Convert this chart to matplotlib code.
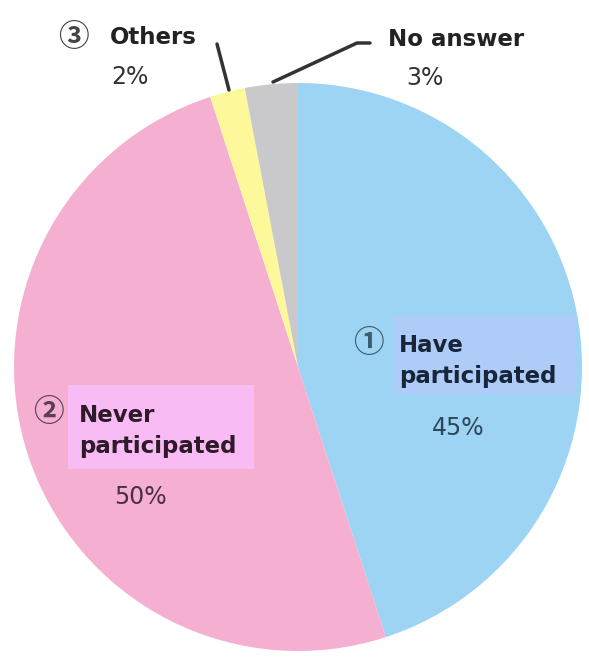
import matplotlib
matplotlib.use("Agg")
import matplotlib.pyplot as plt
from matplotlib.patches import Rectangle

plt.rcParams["font.family"] = ["DejaVu Sans", "Noto Sans CJK JP"]

# data
labels = ["Have participated", "Never participated", "Others", "No answer"]
shares = [45, 50, 2, 3]
pct_text = ["45%", "50%", "2%", "3%"]
colors = ["#9dd4f4", "#f5afd1", "#fdf99a", "#c9c9cb"]

W, H = 589, 664
fig = plt.figure(figsize=(W / 100, H / 100), dpi=100)
ax = fig.add_axes([0, 0, 1, 1])


def y(py):
    # pixel rows are counted from the top
    return H - py


ax.pie(shares, colors=colors, startangle=90, counterclock=False,
       center=(298, y(367)), radius=284, wedgeprops=dict(linewidth=0))
ax.set_xlim(0, W)
ax.set_ylim(0, H)
ax.set_aspect("equal")
ax.axis("off")

# label backgrounds
ax.add_patch(Rectangle((393, y(394)), 182, 78, color="#afccf8", lw=0, zorder=3))
ax.add_patch(Rectangle((68, y(469)), 186, 84, color="#f8bbf3", lw=0, zorder=3))

bold = dict(fontsize=16.5, fontweight="bold", va="center", ha="left", zorder=4)
plain = dict(fontsize=17, va="center", ha="center", zorder=4)
# circled digits come from the CJK font (thin ring)
circ = dict(fontsize=22, fontweight="bold", family=["Noto Sans CJK JP", "DejaVu Sans"],
            ha="center", va="center", zorder=4)

# 1) have participated
ax.text(368, y(343), "\u2460", color="#3d5d6b", **circ)
ax.text(399, y(346), "Have", color="#18263a", **bold)
ax.text(399, y(377), "participated", color="#18263a", **bold)
ax.text(458, y(428), pct_text[0], color="#2c4858", **plain)

# 2) never participated
ax.text(48, y(412), "\u2461", color="#5a4050", **circ)
ax.text(79, y(415), "Never", color="#2e1a28", **bold)
ax.text(79, y(446), "participated", color="#2e1a28", **bold)
ax.text(140, y(497), pct_text[1], color="#4a3040", **plain)

# 3) others
ax.text(73, y(37), "\u2462", color="#444444", **circ)
ax.text(110, y(38), "Others", color="#222222", **bold)
ax.text(130, y(77), pct_text[2], color="#333333", **plain)
ax.plot([217, 229], [y(44), y(90)], color="#333333", lw=2.5, solid_capstyle="round", zorder=4)

# no answer
ax.text(388, y(40), "No answer", color="#222222", **bold)
ax.text(425, y(78), pct_text[3], color="#333333", **plain)
ax.plot([273, 357, 370], [y(82), y(43), y(43)], color="#333333", lw=2.5,
        solid_capstyle="round", zorder=4)

fig.savefig("out.png", dpi=100)
